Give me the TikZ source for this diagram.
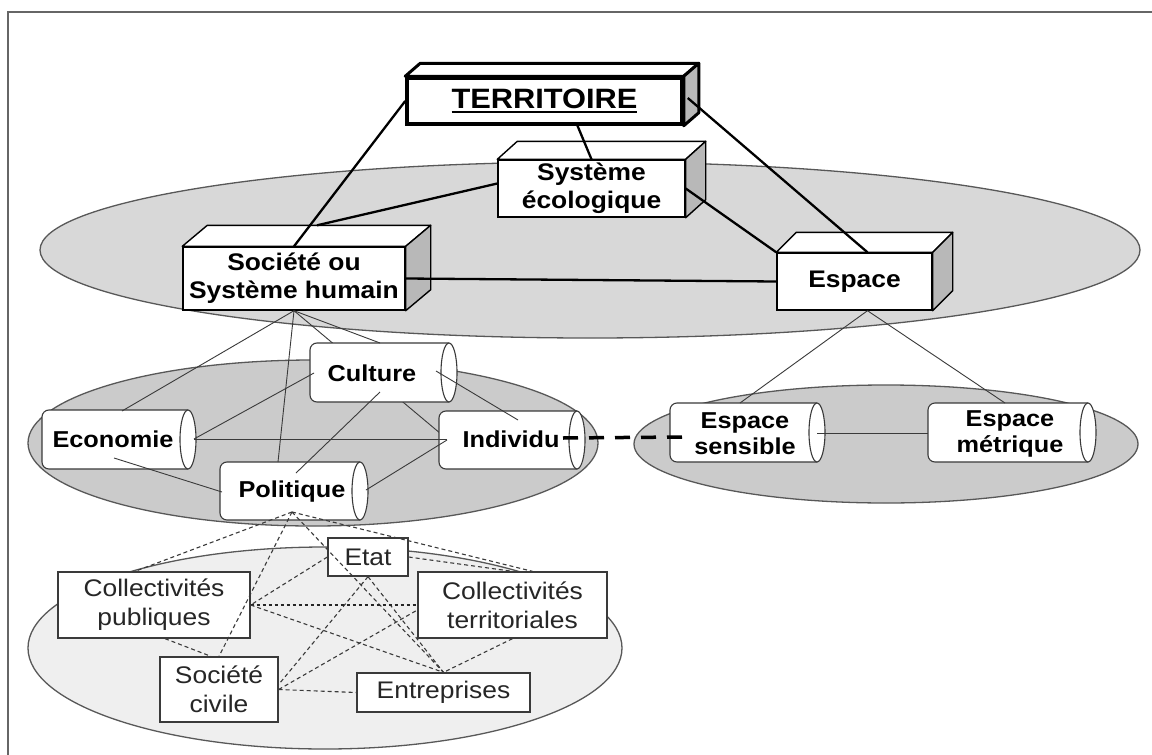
\documentclass[tikz,border=0pt]{standalone}
\usepackage{fontspec}
\setmainfont{Liberation Sans}[FakeStretch=1.1]
\usetikzlibrary{calc}
\pgfdeclarelayer{bg}
\pgfsetlayers{bg,main}

\definecolor{ellA}{HTML}{D8D8D8}
\definecolor{ellB}{HTML}{CBCBCB}
\definecolor{ellC}{HTML}{EFEFEF}
\definecolor{edge}{HTML}{3A3A3A}
\definecolor{sideg}{HTML}{B8B8B8}

\tikzset{
  framel/.style={draw=black!60, line width=2.5},
  ell/.style={draw=edge!85, line width=1.3},
  lvlone/.style={draw=black, line width=2.3},
  lvltwo/.style={draw=edge, line width=0.9},
  dashlink/.style={draw=edge, line width=1.1, dash pattern=on 4 off 3},
  dashstrong/.style={draw=black!85, line width=1.7, dash pattern=on 3.5 off 2.5},
  bigdash/.style={draw=black, line width=3.5, dash pattern=on 15 off 11},
  frontbox/.style={draw=black, line width=1.4, fill=white, inner sep=0, align=center,
    font=\fontsize{24}{28}\selectfont\bfseries},
  plainbox/.style={draw=edge, line width=1.3, fill=white, inner sep=0, align=center,
    font=\fontsize{24}{29}\selectfont, text=black!85},
  cyltext/.style={inner sep=0, align=center, font=\fontsize{23}{26}\selectfont\bfseries},
  cylline/.style={draw=edge, line width=1.1, fill=white},
}

% top and side faces of a cuboid built on a front-face node
\newcommand\cuboid[4]{%
  \filldraw[fill=white, draw=black, line width=#4, line join=round]
    (#1.north west) -- ++(#2,#3) -- ($(#1.north east)+(#2,#3)$) -- (#1.north east) -- cycle;
  \filldraw[fill=sideg, draw=black, line width=#4, line join=round]
    (#1.north east) -- ++(#2,#3) -- ($(#1.south east)+(#2,#3)$) -- (#1.south east) -- cycle;
}
% horizontal cylinder: name, x-left, x-cap, y-top, y-bottom, text x, text y, text
\newcommand\cyl[8]{%
  \filldraw[cylline, rounded corners=7] (#3,#4) -- (#2,#4) -- (#2,#5) -- (#3,#5);
  \filldraw[cylline] (#3,{(#4+#5)/2}) ellipse [x radius=8, y radius={(#5-#4)/2}];
  \node[cyltext] (#1) at (#6,#7) {#8};
}
\newcommand\thickul[1]{\setbox0=\hbox{#1}\leavevmode\rlap{\rule[-4.5pt]{\wd0}{2.2pt}}\box0}

\begin{document}
\begin{tikzpicture}[x=1pt, y=-1pt]
\useasboundingbox (0,0) rectangle (1152,755);

\begin{pgfonlayer}{bg}
  \fill[white] (0,0) rectangle (1152,755);
  \filldraw[ell, fill=ellA] (590,250) ellipse [x radius=550, y radius=88];
  \filldraw[ell, fill=ellB] (313,443) ellipse [x radius=285, y radius=83];
  \filldraw[ell, fill=ellB] (886,444) ellipse [x radius=252, y radius=59];
  \filldraw[ell, fill=ellC] (325,648) ellipse [x radius=297, y radius=101];
\end{pgfonlayer}
\draw[framel] (8,755) -- (8,12) -- (1152,12);

% level 1 cuboids
\node[frontbox, line width=3.5, minimum width=275, minimum height=46,
      font=\fontsize{28}{32}\selectfont\bfseries] (terr) at (544.5,101) {\thickul{TERRITOIRE}};
\cuboid{terr}{15}{-13}{3}
\node[frontbox, minimum width=187, minimum height=57] (sys) at (591.5,188.5) {Système\\écologique};
\cuboid{sys}{20}{-18}{1.4}
\node[frontbox, minimum width=222, minimum height=63] (soc) at (294,278.5) {Société ou\\Système humain};
\cuboid{soc}{25}{-21}{1.4}
\node[frontbox, minimum width=155, minimum height=57] (esp) at (854.5,281.5) {Espace};
\cuboid{esp}{20}{-20}{1.4}

% level 2 cylinders
\cyl{cul}{310}{449}{343}{402}{372}{373}{Culture}
\cyl{eco}{42}{188}{410}{469}{113}{439}{Economie}
\cyl{ind}{439}{577}{411}{469}{511}{439}{Individu}
\cyl{pol}{220}{360}{462}{520}{292}{492}{Politique}
\cyl{sen}{670}{817}{403}{462}{745}{434}{Espace\\sensible}
\cyl{met}{928}{1088}{403}{462}{1010}{434}{Espace\\métrique}

% level 3 boxes
\node[plainbox, minimum width=80, minimum height=38] (etat) at (368,557) {Etat};
\node[plainbox, minimum width=192, minimum height=66] (cpub) at (154,605) {Collectivités\\publiques};
\node[plainbox, minimum width=189, minimum height=66] (cter) at (512.5,605) {Collectivités\\territoriales};
\node[plainbox, minimum width=118, minimum height=65] (sciv) at (219,689.5) {Société\\civile};
\node[plainbox, minimum width=173, minimum height=39] (entr) at (443.5,692.5) {Entreprises};

% level 1 connectors
\draw[lvlone] (terr.west) -- (soc.north);
\draw[lvlone] ($(terr.south)+(33,0)$) -- (sys.north);
\draw[lvlone] ($(terr.east)+(4,-3)$) -- ($(esp.north)+(13,0)$);
\draw[lvlone] ($(sys.west)+(0,-5)$) -- ($(soc.north)+(23,-21)$);
\draw[lvlone] (sys.east) -- (esp.north west);
\draw[lvlone] (soc.east) -- (esp.west);

% level 2 connectors
\begin{pgfonlayer}{bg}
  \draw[lvltwo] (soc.south) -- ($(ind)+(-64,0)$);
\end{pgfonlayer}
\draw[lvltwo] (soc.south) -- ($(eco)+(9,-28)$);
\draw[lvltwo] (soc.south) -- ($(pol)+(-14,-30)$);
\draw[lvltwo] (soc.south) -- ($(cul)+(8,-30)$);
\draw[lvltwo] ($(cul)+(-58,0)$) -- ($(eco)+(81,0)$);
\draw[lvltwo] ($(eco)+(81,0)$) -- ($(ind)+(-64,0)$);
\draw[lvltwo] ($(eco)+(1,19)$) -- ($(pol)+(-70,0)$);
\draw[lvltwo] ($(cul)+(8,19)$) -- ($(pol)+(4,-19)$);
\draw[lvltwo] ($(pol)+(74,-2)$) -- ($(ind)+(-64,1)$);
\draw[lvltwo] ($(cul)+(64,-2)$) -- ($(ind)+(7,-19)$);
\draw[lvltwo] ($(esp.south)+(13,0)$) -- ($(sen)+(-5,-31)$);
\draw[lvltwo] ($(esp.south)+(13,0)$) -- ($(met)+(-5,-31)$);
\draw[lvltwo] ($(sen)+(72,-1)$) -- ($(met)+(-82,-1)$);
\draw[bigdash] ($(ind)+(52,-1)$) -- ($(sen)+(-62,3)$);

% level 3 dashed connectors
\coordinate (pfan) at ($(pol)+(0,20)$);
\draw[dashlink] (pfan) -- ($(cpub.north)+(-19,0)$);
\draw[dashlink] (pfan) -- (sciv.north);
\draw[dashlink] (pfan) -- (entr.north);
\draw[dashlink] (pfan) -- ($(cter.north)+(20,0)$);
\draw[dashlink] (etat.west) -- (cpub.east);
\draw[dashlink] (etat.east) -- (cter.north);
\draw[dashlink] (etat.south) -- ($(sciv.east)+(0,-5)$);
\draw[dashlink] (etat.south) -- (entr.north);
\draw[dashstrong] (cpub.east) -- (cter.west);
\draw[dashlink] (cpub.east) -- (entr.north);
\draw[dashlink] ($(cpub.south)+(11,0)$) -- ($(sciv.north)+(-8,0)$);
\draw[dashlink] (cter.south) -- (entr.north);
\draw[dashlink] (sciv.east) -- ($(cter.west)+(0,5)$);
\draw[dashlink] (sciv.east) -- (entr.west);
\end{tikzpicture}
\end{document}
